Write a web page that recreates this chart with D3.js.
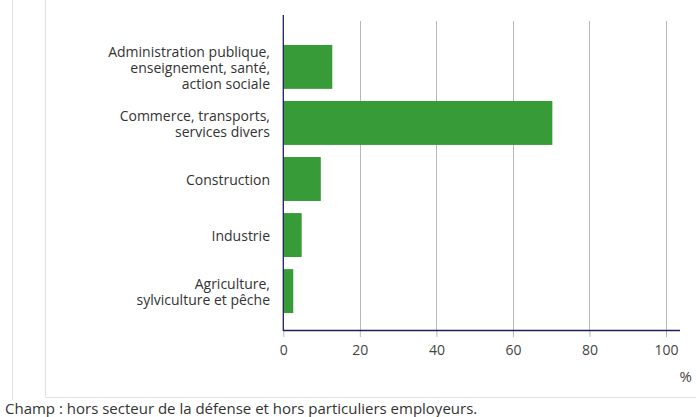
<!DOCTYPE html>
<html><head><meta charset="utf-8">
<script src="https://cdn.jsdelivr.net/npm/d3@7"></script>
<style>
html,body{margin:0;padding:0;background:#fff;}
svg{display:block;font-family:"Open Sans",sans-serif;}
</style></head>
<body>
<svg id="c" width="696" height="417"></svg>
<script>
const categories = [
  ["Administration publique,", "enseignement, santé,", "action sociale"],
  ["Commerce, transports,", "services divers"],
  ["Construction"],
  ["Industrie"],
  ["Agriculture,", "sylviculture et pêche"]
];
const values = [12.8, 70.3, 9.8, 4.8, 2.6];
const tickValues = [0, 20, 40, 60, 80, 100];
const unitLabel = "%";
const footnote = "Champ : hors secteur de la défense et hors particuliers employeurs.";

const svg = d3.select("#c");
const x = d3.scaleLinear().domain([0, 100]).range([283.3, 666]);
const ids = categories.map((c, i) => i);
const y = d3.scaleBand().domain(ids).range([27, 331]).paddingInner(0.216).paddingOuter(0.32);

// frame lines
svg.append("line").attr("x1", 12.5).attr("x2", 12.5).attr("y1", 0).attr("y2", 400).attr("stroke", "#e2e2e2");
svg.append("line").attr("x1", 45.5).attr("x2", 45.5).attr("y1", 0).attr("y2", 397.5).attr("stroke", "#e2e2e2");
svg.append("line").attr("x1", 45.5).attr("x2", 696).attr("y1", 397.5).attr("y2", 397.5).attr("stroke", "#e2e2e2");

// grid
svg.append("g").selectAll("line").data(tickValues.filter(d => d > 0)).join("line")
  .attr("x1", d => Math.round(x(d)) + 0.5).attr("x2", d => Math.round(x(d)) + 0.5)
  .attr("y1", 21).attr("y2", 331).attr("stroke", "#b8b8b8").attr("stroke-width", 1);

// bars
svg.append("g").selectAll("rect").data(values).join("rect")
  .attr("x", x(0)).attr("y", (d, i) => y(i))
  .attr("width", d => x(d) - x(0)).attr("height", y.bandwidth())
  .attr("fill", "#339933").attr("fill-opacity", 0.98);

// x axis
const xAxis = d3.axisBottom(x).tickValues(tickValues).tickSize(6).tickPadding(8).tickFormat(d3.format("d"));
const gx = svg.append("g").attr("transform", "translate(0,331)").call(xAxis);
gx.select(".domain").remove();
gx.selectAll(".tick line").attr("stroke", "#b8b8b8");
gx.selectAll(".tick text").attr("font-size", 14).attr("fill", "#444").attr("font-family", "Open Sans");
svg.append("line").attr("x1", x(0)).attr("x2", 680).attr("y1", 330.5).attr("y2", 330.5).attr("stroke", "#1f1f5c").attr("stroke-width", 1.3);

// y axis line
svg.append("line").attr("x1", x(0)).attr("x2", x(0)).attr("y1", 15).attr("y2", 331).attr("stroke", "#1f1f5c").attr("stroke-width", 1.3);

// category labels
const lh = 16;
const lab = svg.append("g").selectAll("text").data(categories).join("text")
  .attr("text-anchor", "end").attr("font-size", 14).attr("fill", "#333")
  .attr("x", 270)
  .attr("y", (d, i) => y(i) + y.bandwidth() / 2 - (d.length - 1) * lh / 2)
  .attr("dominant-baseline", "central");
lab.selectAll("tspan").data(d => d).join("tspan")
  .attr("x", 270).attr("dy", (d, j) => j === 0 ? 0 : lh).text(d => d);

// unit label
svg.append("text").attr("x", 692).attr("y", 382).attr("text-anchor", "end")
  .attr("font-size", 15).attr("fill", "#444").text(unitLabel);

// footnote
svg.append("text").attr("x", 5).attr("y", 414).attr("font-size", 15).attr("fill", "#333").text(footnote);
</script>
</body></html>
